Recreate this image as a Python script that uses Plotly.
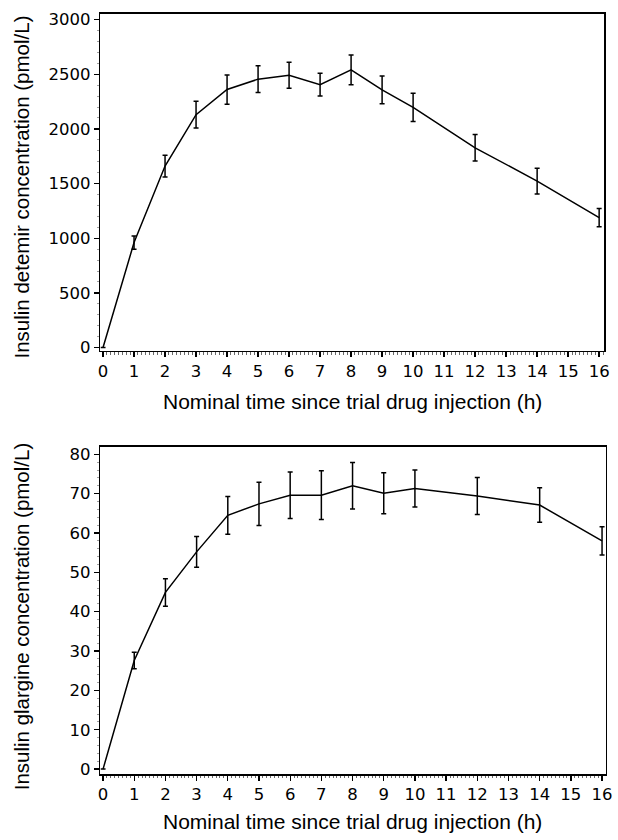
import plotly.graph_objects as go

W, H = 618, 840

time_h = [0, 1, 2, 3, 4, 5, 6, 7, 8, 9, 10, 12, 14, 16]
detemir_mean = [0, 960, 1660, 2130, 2360, 2455, 2490, 2405, 2540, 2357, 2197, 1827, 1523, 1188]
detemir_err = [0, 60, 100, 122, 134, 123, 119, 105, 137, 127, 130, 121, 118, 84]
glargine_mean = [0, 27.6, 44.9, 55.2, 64.5, 67.4, 69.6, 69.6, 72.0, 70.1, 71.3, 69.4, 67.1, 58.0]
glargine_err = [0, 2.1, 3.5, 3.9, 4.8, 5.5, 5.9, 6.2, 5.9, 5.2, 4.7, 4.7, 4.4, 3.6]

x_ticks = list(range(0, 17))
det_ticks = [0, 500, 1000, 1500, 2000, 2500, 3000]
gla_ticks = [0, 10, 20, 30, 40, 50, 60, 70, 80]

x_title = "Nominal time since trial drug injection (h)"
y_title_top = "Insulin detemir concentration (pmol/L)"
y_title_bot = "Insulin glargine concentration (pmol/L)"

TICK_FONT = dict(family="DejaVu Sans", size=16.5, color="black")
XT_FONT = dict(family="Liberation Sans, Arial", size=21, color="black")
YT_FONT = dict(family="Liberation Sans, Arial", size=20.5, color="black")

fig = go.Figure()

def add_series(y, err, xa, ya):
    fig.add_trace(go.Scatter(
        x=time_h, y=y, mode="lines", xaxis=xa, yaxis=ya,
        line=dict(color="black", width=1.5),
        error_y=dict(type="data", array=err, visible=True, color="black",
                     thickness=1.5, width=2.5),
        showlegend=False, hoverinfo="skip"))

add_series(detemir_mean, detemir_err, "x", "y")
add_series(glargine_mean, glargine_err, "x2", "y2")

def px_x(a, b):
    return [a / W, b / W]

def px_y(top, bot):
    return [1 - bot / H, 1 - top / H]

def ax(xp):
    return xp / W

def ay(yp):
    return 1 - yp / H

common_x = dict(
    tickmode="array", tickvals=x_ticks, ticktext=[str(t) for t in x_ticks],
    ticks="outside", ticklen=5, tickwidth=1.3, tickcolor="black",
    showline=True, linecolor="black", linewidth=1.5, mirror=True,
    showgrid=False, zeroline=False, tickfont=TICK_FONT,
    minor=dict(dtick=0.125, tick0=0, ticks="outside", ticklen=2.5,
               tickwidth=0.8, tickcolor="#444", showgrid=False),
)
common_y = dict(
    ticks="outside", ticklen=5, tickwidth=1.3, tickcolor="black",
    showline=True, linecolor="black", linewidth=1.5, mirror=True,
    showgrid=False, zeroline=False, tickfont=TICK_FONT,
)

fig.update_layout(
    width=W, height=H,
    margin=dict(l=0, r=0, t=0, b=0),
    paper_bgcolor="white", plot_bgcolor="white",
    xaxis=dict(common_x, domain=px_x(99, 611), range=[-0.085, 16.16], anchor="y"),
    yaxis=dict(common_y, domain=px_y(10, 351), range=[-30, 3052], anchor="x",
               tickmode="array", tickvals=det_ticks, ticktext=[str(t) for t in det_ticks],
               minor=dict(dtick=100, tick0=0, ticks="outside", ticklen=2,
                          tickwidth=0.7, tickcolor="#777", showgrid=False)),
    xaxis2=dict(common_x, domain=px_x(99, 612.7), range=[-0.085, 16.12], anchor="y2"),
    yaxis2=dict(common_y, domain=px_y(448.3, 779.3), range=[-1.25, 81.86], anchor="x2",
                tickmode="array", tickvals=gla_ticks, ticktext=[str(t) for t in gla_ticks],
                minor=dict(dtick=2, tick0=0, ticks="outside", ticklen=2,
                           tickwidth=0.7, tickcolor="#777", showgrid=False)),
    annotations=[
        dict(text=x_title, xref="paper", yref="paper", x=ax(355), y=ay(402),
             showarrow=False, font=XT_FONT, xanchor="center", yanchor="middle"),
        dict(text=x_title, xref="paper", yref="paper", x=ax(355), y=ay(827),
             showarrow=False, font=XT_FONT, xanchor="center", yanchor="middle"),
        dict(text=y_title_top, xref="paper", yref="paper", x=ax(19), y=ay(185),
             showarrow=False, font=YT_FONT, textangle=-90, xanchor="center", yanchor="middle"),
        dict(text=y_title_bot, xref="paper", yref="paper", x=ax(19), y=ay(620),
             showarrow=False, font=YT_FONT, textangle=-90, xanchor="center", yanchor="middle"),
    ],
)

fig.write_html(
    "out.html",
    config={"displayModeBar": False, "staticPlot": True},
    post_script="document.body.style.margin='0';document.body.style.overflow='hidden';",
)
